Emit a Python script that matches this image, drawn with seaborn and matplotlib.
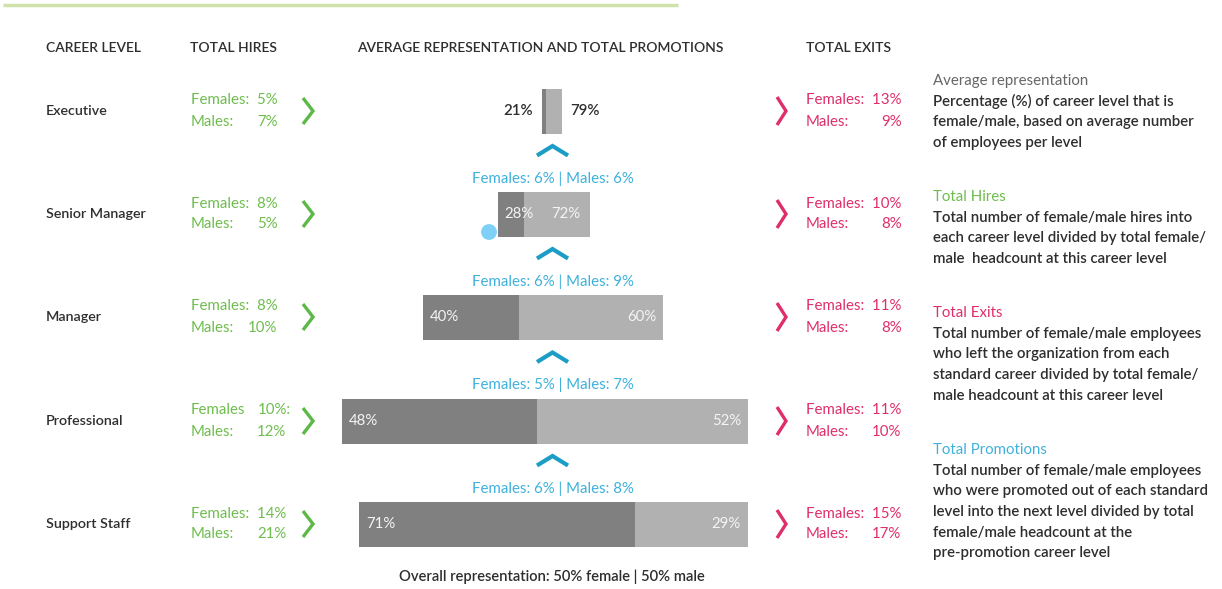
import matplotlib
matplotlib.use("Agg")
import matplotlib.pyplot as plt
import seaborn as sns
import pandas as pd

# ---------------- data ----------------
levels = ["Executive", "Senior Manager", "Manager", "Professional", "Support Staff"]
female_rep = [21, 28, 40, 48, 71]
male_rep = [79, 72, 60, 52, 29]
level_size = [20, 92, 240, 406, 389]          # relative bar length (headcount scale)
hires_female = [5, 8, 8, 10, 14]
hires_male = [7, 5, 10, 12, 21]
exits_female = [13, 10, 11, 11, 15]
exits_male = [9, 8, 8, 10, 17]
promo_female = [6, 6, 5, 6]
promo_male = [6, 9, 7, 8]
headers = ["CAREER LEVEL", "TOTAL HIRES", "AVERAGE REPRESENTATION AND TOTAL PROMOTIONS", "TOTAL EXITS"]
overall_text = "Overall representation: 50% female | 50% male"

legend_blocks = [
    ("Average representation", ["Percentage (%) of career level that is",
                                "female/male, based on average number",
                                "of employees per level"]),
    ("Total Hires", ["Total number of female/male hires into",
                     "each career level divided by total female/",
                     "male  headcount at this career level"]),
    ("Total Exits", ["Total number of female/male employees",
                     "who left the organization from each",
                     "standard career divided by total female/",
                     "male headcount at this career level"]),
    ("Total Promotions", ["Total number of female/male employees",
                          "who were promoted out of each standard",
                          "level into the next level divided by total",
                          "female/male headcount at the",
                          "pre-promotion career level"]),
]

# ---------------- layout / style ----------------
W, H = 1222, 589
row_y = [111, 214, 317, 421, 524]
bar_left = [542, 498, 423, 342, 359]
bar_h = 45
DARK_BAR = "#808080"
LIGHT_BAR = "#b1b1b1"
GREEN = "#6fbd4e"
PINK = "#df2f69"
CYAN = "#3eb1dc"
CYAN_DARK = "#1c9dc6"
TXT = "#2e2e2e"

sns.set_theme(style="white")
plt.rcParams["font.family"] = ["Lato", "DejaVu Sans"]

fig = plt.figure(figsize=(W / 100, H / 100), dpi=100)
ax = fig.add_axes([0, 0, 1, 1])
ax.set_xlim(0, W)
ax.set_ylim(H, 0)
ax.axis("off")

FS = 10.8

# top rule
ax.plot([3, 678], [5, 5], color="#cfe2ac", lw=2.5, solid_capstyle="butt")

# headers
hx = [46, 190, 357, 806]
for x, h in zip(hx, headers):
    ax.text(x, 48, h, fontsize=10, color=TXT, va="center", ha="left", fontweight="semibold")

# bars
df = pd.DataFrame({"level": levels, "y": row_y, "left": bar_left, "size": level_size,
                   "f": female_rep, "m": male_rep})
df["fw"] = df["size"] * df["f"] / 100
df["mw"] = df["size"] * df["m"] / 100
ax.barh(df["y"], df["fw"], left=df["left"], height=bar_h, color=DARK_BAR, lw=0)
ax.barh(df["y"], df["mw"], left=df["left"] + df["fw"], height=bar_h, color=LIGHT_BAR, lw=0)

for i, r in df.iterrows():
    right = r["left"] + r["size"]
    if i == 0:
        ax.text(r["left"] - 9, r["y"], f"{r['f']}%", ha="right", va="center", fontsize=FS,
                color=TXT, fontweight="semibold")
        ax.text(right + 8, r["y"], f"{r['m']}%", ha="left", va="center", fontsize=FS,
                color=TXT, fontweight="semibold")
    elif i == 1:
        ax.text(r["left"] + 6, r["y"], f"{r['f']}%", ha="left", va="center", fontsize=FS, color="#f4f4f4")
        ax.text(right - 10, r["y"], f"{r['m']}%", ha="right", va="center", fontsize=FS, color="#f4f4f4")
    else:
        ax.text(r["left"] + 7, r["y"], f"{r['f']}%", ha="left", va="center", fontsize=FS, color="#f4f4f4")
        ax.text(right - 7, r["y"], f"{r['m']}%", ha="right", va="center", fontsize=FS, color="#f4f4f4")

# blue dot
sns.scatterplot(x=[489], y=[232], s=130, color="#7fd0f6", edgecolor="none", ax=ax, legend=False)

# promotions chevrons + text
for k in range(4):
    yc = (row_y[k] + row_y[k + 1]) / 2
    ax.plot([537, 552.5, 568], [yc - 7, yc - 16.5, yc - 7],
            color=CYAN_DARK, lw=3, solid_joinstyle="miter", solid_capstyle="butt")
    ax.text(553, yc + 16, f"Females: {promo_female[k]}% | Males: {promo_male[k]}%",
            ha="center", va="center", fontsize=FS, color=CYAN)

# category labels
for y, lab in zip(row_y, levels):
    ax.text(46, y, lab, ha="left", va="center", fontsize=10.3, color=TXT, fontweight="semibold")

# hires / exits text
fig.canvas.draw()
renderer = fig.canvas.get_renderer()
inv = ax.transData.inverted()


def right_edge(t):
    bb = t.get_window_extent(renderer)
    return inv.transform((bb.x1, bb.y0))[0]


for i, y in enumerate(row_y):
    # hires
    if levels[i] == "Professional":
        ax.text(191, y - 10.5, "Females", ha="left", va="center", fontsize=FS, color=GREEN)
        ax.text(291, y - 10.5, f"{hires_female[i]}%:", ha="right", va="center", fontsize=FS, color=GREEN)
        xr = 286
    else:
        t = ax.text(191, y - 10.5, f"Females:  {hires_female[i]}%", ha="left", va="center",
                    fontsize=FS, color=GREEN)
        xr = right_edge(t)
    ax.text(191, y + 10.5, "Males:", ha="left", va="center", fontsize=FS, color=GREEN)
    ax.text(xr, y + 10.5, f"{hires_male[i]}%", ha="right", va="center", fontsize=FS, color=GREEN)
    ax.plot([303, 313, 303], [y - 13, y, y + 13], color="#5cb947", lw=2.4,
            solid_joinstyle="miter", solid_capstyle="butt")
    # exits
    t = ax.text(806, y - 10.5, f"Females:  {exits_female[i]}%", ha="left", va="center",
                fontsize=FS, color=PINK)
    xr = right_edge(t)
    ax.text(806, y + 10.5, "Males:", ha="left", va="center", fontsize=FS, color=PINK)
    ax.text(xr, y + 10.5, f"{exits_male[i]}%", ha="right", va="center", fontsize=FS, color=PINK)
    ax.plot([777, 786, 777], [y - 14, y, y + 14], color=PINK, lw=2.4,
            solid_joinstyle="miter", solid_capstyle="butt")

# overall
ax.text(552, 577, overall_text, ha="center", va="center", fontsize=10.6, color=TXT,
        fontweight="semibold")

# legend panel
title_y = [81, 197, 313, 450]
title_col = ["#666666", GREEN, PINK, CYAN]
for (title, lines), ty, tc in zip(legend_blocks, title_y, title_col):
    ax.text(933, ty, title, ha="left", va="center", fontsize=FS, color=tc)
    for j, ln in enumerate(lines):
        ax.text(933, ty + 20.7 * (j + 1), ln, ha="left", va="center", fontsize=FS,
                color=TXT, fontweight="semibold")

fig.savefig("out.png", dpi=100, facecolor="white")
